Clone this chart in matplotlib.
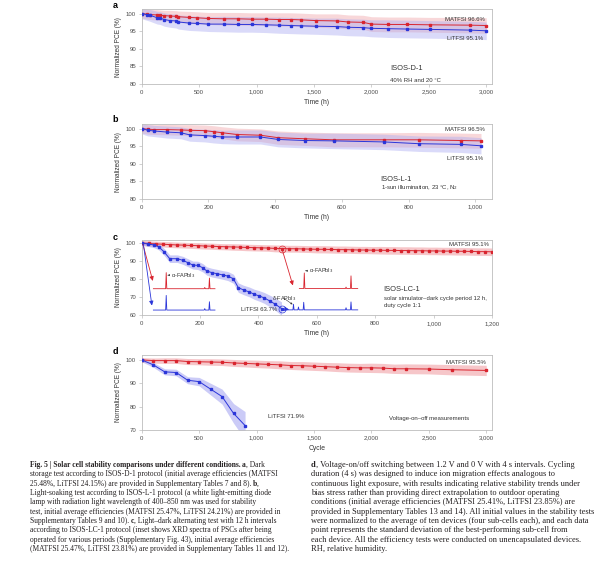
import numpy as np
import matplotlib.pyplot as plt

plt.rcParams['font.family'] = ['Liberation Sans', 'DejaVu Sans']

# ---------------- data ----------------
# panel a : ISOS-D-1 (dark storage)
a_t = [0, 43, 72, 136, 160, 197, 246, 299, 319, 412, 478, 580, 716, 841, 957, 1078,
       1194, 1299, 1391, 1516, 1701, 1797, 1928, 2000, 2148, 2310, 2507, 2855, 3000]
a_matfsi = [100, 99.8, 99.7, 99.6, 99.5, 99.4, 99.3, 99.2, 99.1, 98.9, 98.8, 98.6, 98.5,
            98.5, 98.4, 98.4, 98.3, 98.3, 98.2, 98.0, 97.9, 97.6, 97.5, 97.0, 96.9, 96.9,
            96.8, 96.7, 96.6]
a_litfsi = [100, 99.7, 99.5, 98.8, 98.7, 98.3, 98.0, 97.9, 97.6, 97.3, 97.2, 97.0, 97.0,
            96.9, 96.9, 96.8, 96.7, 96.6, 96.5, 96.4, 96.3, 96.1, 96.0, 95.8, 95.7, 95.6,
            95.5, 95.3, 95.1]
a_matfsi_sd = [1.3, 1.4, 1.4, 1.5, 1.5, 1.5, 1.6, 1.6, 1.6, 1.7, 1.7, 1.7, 1.8, 1.8, 1.8,
               1.8, 1.9, 1.9, 1.9, 1.9, 2.0, 2.0, 2.0, 2.1, 2.1, 2.1, 2.1, 2.2, 2.2]
a_litfsi_sd = [1.5, 1.6, 1.7, 1.8, 1.8, 1.9, 1.9, 2.0, 2.0, 2.1, 2.1, 2.1, 2.2, 2.2, 2.2,
               2.2, 2.3, 2.3, 2.3, 2.3, 2.4, 2.4, 2.4, 2.4, 2.5, 2.5, 2.5, 2.5, 2.5]

# panel b : ISOS-L-1 (light soaking)
b_t = [0, 18, 38, 75, 117, 144, 189, 216, 242, 286, 356, 409, 488, 575, 725, 830, 957, 1017]
b_matfsi = [100, 99.8, 99.7, 99.7, 99.6, 99.5, 99.4, 99.1, 98.8, 98.3, 98.1, 97.4, 97.1,
            96.8, 96.8, 96.8, 96.6, 96.5]
b_litfsi = [100, 99.5, 99.3, 99.0, 98.8, 98.2, 98.0, 97.8, 97.6, 97.6, 97.6, 96.9, 96.6,
            96.5, 96.2, 95.7, 95.5, 95.1]
b_matfsi_sd = [1.3, 1.4, 1.4, 1.5, 1.5, 1.6, 1.6, 1.7, 1.7, 1.8, 1.8, 1.9, 1.9, 2.0, 2.0,
               2.1, 2.1, 2.1]
b_litfsi_sd = [1.5, 1.6, 1.6, 1.7, 1.7, 1.8, 1.8, 1.9, 1.9, 2.0, 2.0, 2.1, 2.1, 2.2, 2.2,
               2.2, 2.3, 2.3]

# panel c : ISOS-LC-1 (light-dark cycling)
c_matfsi_t = [0, 24, 48, 72, 96, 120, 144, 168, 192, 216, 240, 264, 288, 312, 336, 360,
              384, 408, 432, 456, 480, 504, 528, 552, 576, 600, 624, 648, 672, 696, 720,
              744, 768, 792, 816, 840, 864, 888, 912, 936, 960, 984, 1008, 1032, 1056,
              1080, 1104, 1128, 1152, 1176, 1200]
c_matfsi = [100, 99.7, 99.5, 99.3, 99.1, 98.9, 98.8, 98.6, 98.5, 98.3, 98.2, 98.0, 97.9,
            97.8, 97.7, 97.5, 97.4, 97.3, 97.2, 97.0, 96.9, 96.8, 96.8, 96.7, 96.6, 96.5,
            96.5, 96.4, 96.3, 96.3, 96.2, 96.1, 96.1, 96.0, 96.0, 95.9, 95.9, 95.8, 95.8,
            95.7, 95.7, 95.6, 95.6, 95.5, 95.5, 95.4, 95.4, 95.3, 95.2, 95.2, 95.1]
c_matfsi_sd = [1.4, 1.5, 1.5, 1.5, 1.6, 1.6, 1.6, 1.6, 1.7, 1.7, 1.7, 1.7, 1.7, 1.8, 1.8,
               1.8, 1.8, 1.8, 1.8, 1.9, 1.9, 1.9, 1.9, 1.9, 1.9, 2.0, 2.0, 2.0, 2.0, 2.0,
               2.0, 2.0, 2.0, 2.0, 2.1, 2.1, 2.1, 2.1, 2.1, 2.1, 2.1, 2.1, 2.1, 2.1, 2.1,
               2.1, 2.1, 2.1, 2.1, 2.1, 2.1]
c_litfsi_t = [0, 21, 42, 58, 76, 96, 122, 141, 158, 175, 192, 209, 223, 240, 258, 278, 295,
              314, 331, 349, 369, 386, 403, 420, 439, 458, 479]
c_litfsi = [100, 99.4, 98.9, 97.9, 95.2, 91.3, 91.3, 90.4, 89.1, 87.8, 87.6, 86.3, 84.5,
            83.6, 83.0, 82.3, 81.7, 80.2, 75.3, 74.0, 72.9, 71.6, 70.7, 69.6, 67.9, 66.1, 63.7]
c_litfsi_sd = [1.0, 1.3, 1.5, 1.7, 1.9, 2.1, 2.1, 2.2, 2.2, 2.2, 2.3, 2.3, 2.3, 2.4, 2.4,
               2.4, 2.5, 2.5, 2.6, 2.6, 2.7, 2.8, 2.9, 3.0, 3.2, 3.4, 3.7]

# XRD insets of panel c (vertices of the spectra, drawn in panel coordinates)
xrd_red1_t = [40, 82, 84, 86, 214, 216, 218, 230, 232, 234, 251]
xrd_red1 = [74.7, 74.7, 83.6, 74.7, 74.7, 75.4, 74.7, 74.7, 80.6, 74.7, 74.7]
xrd_blue1_t = [40, 82, 84, 86, 214, 216, 218, 230, 232, 234, 251]
xrd_blue1 = [62.9, 62.9, 71.0, 62.9, 62.9, 63.7, 62.9, 62.9, 67.5, 62.9, 62.9]
xrd_red2_t = [540, 555, 557, 559, 698, 700, 702, 715, 717, 719, 740]
xrd_red2 = [74.8, 74.8, 83.4, 74.8, 74.8, 75.6, 74.8, 74.8, 81.8, 74.8, 74.8]
xrd_blue2_t = [495, 518, 520, 522, 535, 537, 539, 553, 555, 557, 698, 700, 702, 715, 717,
               719, 740]
xrd_blue2 = [63.0, 63.0, 66.1, 63.0, 63.0, 64.6, 63.0, 63.0, 67.2, 63.0, 63.0, 64.2, 63.0,
             63.0, 67.4, 63.0, 63.0]

# panel d : voltage on/off cycling
d_matfsi_t = [0, 100, 200, 300, 400, 500, 600, 700, 800, 900, 1000, 1100, 1200, 1300, 1400,
              1500, 1600, 1700, 1800, 1900, 2000, 2100, 2200, 2300, 2500, 2700, 3000]
d_matfsi = [100, 99.7, 99.7, 99.7, 99.3, 99.2, 99.1, 99.0, 98.7, 98.5, 98.3, 98.1, 97.9,
            97.6, 97.5, 97.3, 97.1, 96.9, 96.7, 96.6, 96.6, 96.5, 96.2, 96.2, 96.1, 95.8, 95.5]
d_matfsi_sd = [1.0, 1.1, 1.2, 1.2, 1.3, 1.3, 1.4, 1.4, 1.5, 1.5, 1.6, 1.6, 1.7, 1.7, 1.8,
               1.8, 1.8, 1.9, 1.9, 1.9, 2.0, 2.0, 2.0, 2.1, 2.1, 2.2, 2.2]
d_litfsi_t = [0, 100, 200, 300, 400, 500, 600, 700, 800, 900]
d_litfsi = [100, 97.9, 94.9, 94.6, 91.3, 90.7, 87.5, 84.3, 77.1, 71.9]
d_litfsi_sd = [0.8, 1.0, 1.3, 1.4, 1.5, 1.8, 2.5, 3.2, 4.2, 6.0]

a_xticks = [0, 500, 1000, 1500, 2000, 2500, 3000]
a_xlabels = ['0', '500', '1,000', '1,500', '2,000', '2,500', '3,000']
b_xticks = [0, 200, 400, 600, 800, 1000]
b_xlabels = ['0', '200', '400', '600', '800', '1,000']
c_xticks = [0, 200, 400, 600, 800, 1000, 1200]
c_xlabels = ['0', '200', '400', '600', '800', '1,000', '1,200']

# ---------------- style ----------------
red = '#d9252f'
blue = '#2b36d9'
red_band = '#f0a0a6'
blue_band = '#a9a9f2'
spine_c = '#bdbdbd'
txt_c = '#4a4a4a'

fig = plt.figure(figsize=(6.0, 5.68), dpi=100)
W, H = 600.0, 568.0


def make_ax(top, bottom):
    left, right = 141.7, 492.0
    return fig.add_axes([left / W, 1 - bottom / H, (right - left) / W, (bottom - top) / H])


def style_ax(ax, xlim, ylim, xticks, xlabels, yticks, xlabel):
    ax.set_xlim(*xlim)
    ax.set_ylim(*ylim)
    ax.set_xticks(xticks)
    ax.set_xticklabels(xlabels)
    ax.set_yticks(yticks)
    for s in ax.spines.values():
        s.set_color(spine_c)
        s.set_linewidth(0.6)
    ax.tick_params(length=2, width=0.5, color=spine_c, labelsize=4.3,
                   labelcolor=txt_c, pad=2)
    ax.set_xlabel(xlabel, fontsize=4.9, color='#333333', labelpad=3)
    ax.set_ylabel('Normalized PCE (%)', fontsize=4.7, color='#333333', labelpad=3)


def series(ax, t, v, sd, color, band, alpha):
    t = np.asarray(t, float)
    v = np.asarray(v, float)
    sd = np.asarray(sd, float)
    ax.fill_between(t, v - sd, v + sd, color=band, alpha=alpha, lw=0, zorder=1)
    ax.plot(t, v, color=color, lw=0.7, marker='s', ms=1.6, zorder=3)


# ---- a ----
ax1 = make_ax(9.3, 84.0)
series(ax1, a_t, a_matfsi, a_matfsi_sd, red, red_band, 0.42)
series(ax1, a_t, a_litfsi, a_litfsi_sd, blue, blue_band, 0.42)
style_ax(ax1, (0, 3050), (80, 101.2), a_xticks, a_xlabels, [80, 85, 90, 95, 100], 'Time (h)')
ax1.text(2990, 98.4, 'MATFSI 96.6%', fontsize=4.3, color='#333333', ha='right', va='center')
ax1.text(2970, 92.8, 'LiTFSI 95.1%', fontsize=4.3, color='#333333', ha='right', va='center')
ax1.text(2160, 84.3, 'ISOS-D-1', fontsize=5.4, color='#333333', va='center')
ax1.text(2160, 81.0, '40% RH and 20 °C', fontsize=4.3, color='#333333', va='center')

# ---- b ----
ax2 = make_ax(124.3, 199.0)
series(ax2, b_t, b_matfsi, b_matfsi_sd, red, red_band, 0.42)
series(ax2, b_t, b_litfsi, b_litfsi_sd, blue, blue_band, 0.42)
style_ax(ax2, (0, 1050), (80, 101.2), b_xticks, b_xlabels, [80, 85, 90, 95, 100], 'Time (h)')
ax2.text(1030, 99.7, 'MATFSI 96.5%', fontsize=4.3, color='#333333', ha='right', va='center')
ax2.text(1025, 91.6, 'LiTFSI 95.1%', fontsize=4.3, color='#333333', ha='right', va='center')
ax2.text(716, 85.6, 'ISOS-L-1', fontsize=5.4, color='#333333', va='center')
ax2.text(716, 83.2, '1-sun illumination, 23 °C, N$_2$', fontsize=4.3, color='#333333',
         va='center')

# ---- c ----
ax3 = make_ax(239.7, 315.3)
series(ax3, c_matfsi_t, c_matfsi, c_matfsi_sd, red, red_band, 0.6)
series(ax3, c_litfsi_t, c_litfsi, c_litfsi_sd, blue, blue_band, 0.6)
style_ax(ax3, (0, 1200), (60, 101.8), c_xticks, c_xlabels, [60, 70, 80, 90, 100], 'Time (h)')
ax3.plot(xrd_red1_t, xrd_red1, color=red, lw=0.6, zorder=4)
ax3.plot(xrd_blue1_t, xrd_blue1, color=blue, lw=0.6, zorder=4)
ax3.plot(xrd_red2_t, xrd_red2, color=red, lw=0.6, zorder=4)
ax3.plot(xrd_blue2_t, xrd_blue2, color=blue, lw=0.6, zorder=4)
# circled sampling points
ax3.plot([c_matfsi_t[20]], [c_matfsi[20]], 'o', ms=5, mfc='none', mec=red, mew=0.5, zorder=5)
ax3.plot([c_litfsi_t[-1]], [c_litfsi[-1]], 'o', ms=5, mfc='none', mec=blue, mew=0.5, zorder=5)
arr = dict(arrowstyle='-|>,head_length=0.25,head_width=0.12', lw=0.6, shrinkA=0, shrinkB=0)
ax3.annotate('', xy=(38, 79.0), xytext=(4, 99.3), arrowprops=dict(arr, color=red), zorder=4)
ax3.annotate('', xy=(35, 65.4), xytext=(6, 99.0), arrowprops=dict(arr, color=blue), zorder=4)
ax3.annotate('', xy=(518, 76.5), xytext=(482, 95.9), arrowprops=dict(arr, color=red), zorder=4)
ax3.annotate('', xy=(505, 63.2), xytext=(492, 63.5), arrowprops=dict(arr, color=blue), zorder=4)
ax3.annotate('α-FAPbI$_3$', xy=(89, 82.2), xytext=(100, 82.2), fontsize=4.0, color='#333333',
             va='center', arrowprops=dict(arr, color='#333333', lw=0.4))
ax3.annotate('α-FAPbI$_3$', xy=(561, 84.6), xytext=(572, 84.6), fontsize=4.0,
             color='#333333', va='center', arrowprops=dict(arr, color='#333333', lw=0.4))
ax3.annotate('δ-FAPbI$_3$', xy=(517, 66.0), xytext=(488, 69.3), fontsize=4.0,
             color='#333333', ha='center', va='center',
             arrowprops=dict(arr, color='#333333', lw=0.4))
ax3.text(1190, 99.3, 'MATFSI 95.1%', fontsize=4.3, color='#333333', ha='right', va='center')
ax3.text(465, 63.0, 'LiTFSI 63.7%', fontsize=4.3, color='#333333', ha='right', va='center')
ax3.text(829, 74.2, 'ISOS-LC-1', fontsize=5.4, color='#333333', va='center')
ax3.text(829, 69.3, 'solar simulator–dark cycle period 12 h,', fontsize=4.3,
         color='#333333', va='center')
ax3.text(829, 65.5, 'duty cycle 1:1', fontsize=4.3, color='#333333', va='center')

# ---- d ----
ax4 = make_ax(355.0, 430.0)
series(ax4, d_matfsi_t, d_matfsi, d_matfsi_sd, red, red_band, 0.6)
series(ax4, d_litfsi_t, d_litfsi, d_litfsi_sd, blue, blue_band, 0.6)
style_ax(ax4, (0, 3050), (70, 102.1), a_xticks, a_xlabels, [70, 80, 90, 100], 'Cycle')
ax4.text(3000, 99.1, 'MATFSI 95.5%', fontsize=4.3, color='#333333', ha='right', va='center')
ax4.text(1100, 75.8, 'LiTFSI 71.9%', fontsize=4.3, color='#333333', va='center')
ax4.text(2154, 74.8, 'Voltage-on–off measurements', fontsize=4.3, color='#333333',
         va='center')

for lab, ypx in zip(['a', 'b', 'c', 'd'], [6, 120, 238, 352]):
    fig.text(115 / W, 1 - ypx / H, lab, fontsize=6.5, fontweight='bold', ha='center',
             va='center')

# ---------------- caption ----------------
left_lines = [
    [('Fig. 5 | Solar cell stability comparisons under different conditions.', True),
     (' ', False), ('a', True), (', Dark', False)],
    [('storage test according to ISOS-D-1 protocol (initial average efficiencies (MATFSI', False)],
    [('25.48%, LiTFSI 24.15%) are provided in Supplementary Tables 7 and 8). ', False),
     ('b', True), (',', False)],
    [('Light-soaking test according to ISOS-L-1 protocol (a white light-emitting diode', False)],
    [('lamp with radiation light wavelength of 400–850 nm was used for stability', False)],
    [('test, initial average efficiencies (MATFSI 25.47%, LiTFSI 24.21%) are provided in', False)],
    [('Supplementary Tables 9 and 10). ', False), ('c', True),
     (', Light–dark alternating test with 12 h intervals', False)],
    [('according to ISOS-LC-1 protocol (inset shows XRD spectra of PSCs after being', False)],
    [('operated for various periods (Supplementary Fig. 43), initial average efficiencies', False)],
    [('(MATFSI 25.47%, LiTFSI 23.81%) are provided in Supplementary Tables 11 and 12).', False)],
]
right_lines = [
    [('d', True), (', Voltage-on/off switching between 1.2 V and 0 V with 4 s intervals. Cycling', False)],
    [('duration (4 s) was designed to induce ion migration effects analogous to', False)],
    [('continuous light exposure, with results indicating relative stability trends under', False)],
    [('bias stress rather than providing direct extrapolation to outdoor operating', False)],
    [('conditions (initial average efficiencies (MATFSI 25.41%, LiTFSI 23.85%) are', False)],
    [('provided in Supplementary Tables 13 and 14). All initial values in the stability tests', False)],
    [('were normalized to the average of ten devices (four sub-cells each), and each data', False)],
    [('point represents the standard deviation of the best-performing sub-cell from', False)],
    [('each device. All the efficiency tests were conducted on unencapsulated devices.', False)],
    [('RH, relative humidity.', False)],
]

renderer = fig.canvas.get_renderer()
for x0, lines, cap_fs in [(29.5, left_lines, 5.45), (311.0, right_lines, 6.0)]:
    for i, segs in enumerate(lines):
        ypx = 465.0 + i * 9.35
        x = x0
        for s, bold in segs:
            t = fig.text(x / W, 1 - ypx / H, s, fontsize=cap_fs, family='Liberation Serif',
                         fontweight='bold' if bold else 'normal', color='#231f20',
                         va='center', ha='left')
            bb = t.get_window_extent(renderer)
            x = bb.x1

fig.savefig('out.png', dpi=100)
